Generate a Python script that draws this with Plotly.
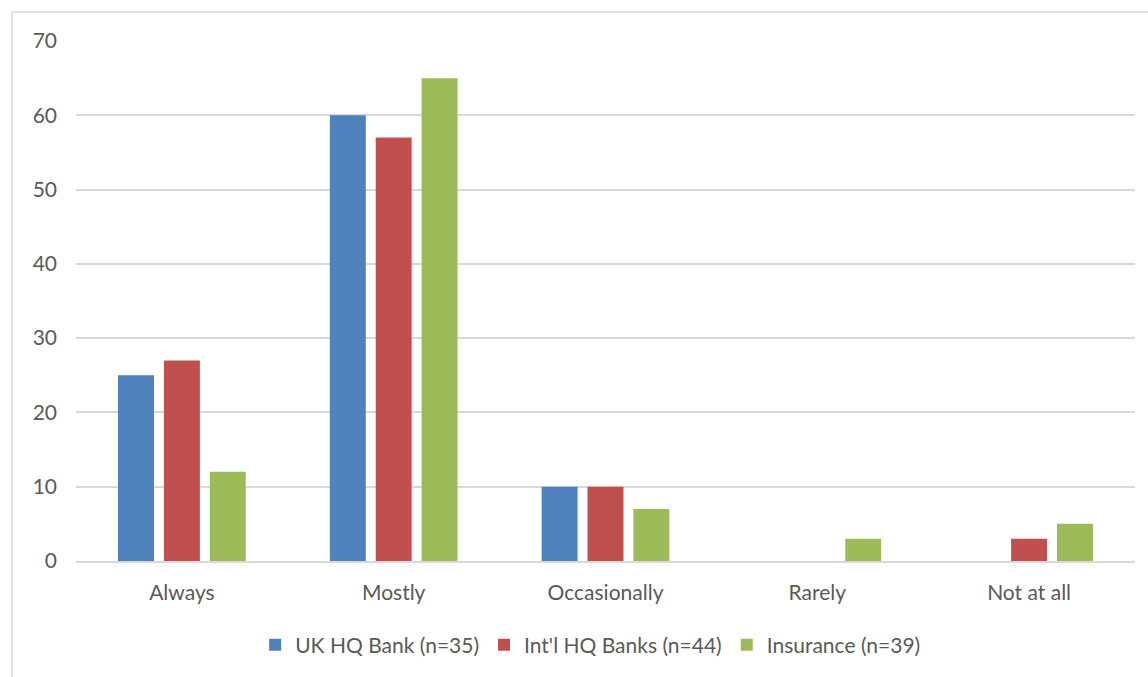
import plotly.graph_objects as go

categories = ["Always", "Mostly", "Occasionally", "Rarely", "Not at all"]
uk_hq_bank = [25, 60, 10, 0, 0]
intl_hq_banks = [27, 57, 10, 0, 3]
insurance = [12, 65, 7, 3, 5]
series_names = ["UK HQ Bank (n=35)", "Int'l HQ Banks (n=44)", "Insurance (n=39)"]
colors = ["#4F81BD", "#C0504D", "#9BBB59"]

fig = go.Figure()
for name, vals, col in zip(series_names, [uk_hq_bank, intl_hq_banks, insurance], colors):
    fig.add_trace(go.Bar(x=categories, y=vals, name=name, marker_color=col,
                         marker_line_width=0))

font_family = "Lato, Open Sans, sans-serif"
fig.update_layout(
    width=1148, height=677,
    margin=dict(l=76, r=13, t=41, b=116),
    paper_bgcolor="white", plot_bgcolor="white",
    barmode="group", bargap=0.35, bargroupgap=0.217,
    font=dict(family=font_family, size=21, color="#595959"),
    showlegend=True,
    legend=dict(orientation="h", x=0.486, xanchor="center", y=-0.1615, yanchor="middle",
                font=dict(size=21, color="#595959"), itemwidth=30, traceorder="normal"),
    xaxis=dict(showgrid=False, showline=True, linecolor="#D9D9D9", linewidth=1.5,
               ticks="", ticklabelstandoff=12, tickfont=dict(size=21)),
    yaxis=dict(range=[0, 70], dtick=10, showgrid=True, gridcolor="#D9D9D9", gridwidth=1.5,
               zeroline=False, showline=False, ticks="", ticklabelstandoff=18,
               tickfont=dict(size=21)),
    shapes=[dict(type="rect", xref="paper", yref="paper", x0=-0.0604, x1=1.05,
                 y0=-0.3, y1=1.0558, line=dict(color="#D9D9D9", width=1.5),
                 fillcolor="rgba(0,0,0,0)", layer="below")],
)

fig.write_html("out.html")
